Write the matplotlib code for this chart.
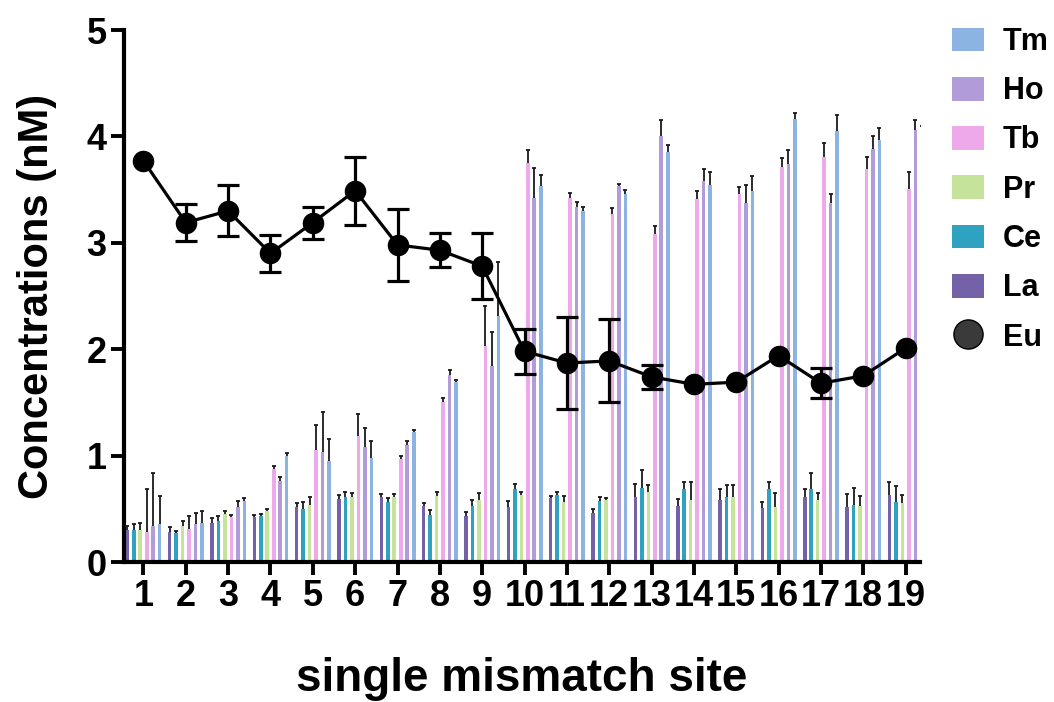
import numpy as np
import matplotlib
matplotlib.use("Agg")
import matplotlib.pyplot as plt
from matplotlib.patches import Patch
from matplotlib.lines import Line2D

plt.rcParams['font.family'] = ['Liberation Sans', 'DejaVu Sans']
plt.rcParams['font.weight'] = 'bold'

sites = list(range(1, 20))
site_labels = [str(s) for s in sites]

La = [0.30,0.28,0.37,0.42,0.52,0.59,0.61,0.53,0.43,0.52,0.60,0.46,0.61,0.53,0.58,0.51,0.61,0.52,0.63]
La_err = [0.04,0.05,0.04,0.02,0.03,0.04,0.03,0.02,0.04,0.05,0.02,0.04,0.12,0.06,0.11,0.05,0.08,0.12,0.12]
Ce = [0.30,0.27,0.39,0.43,0.50,0.61,0.56,0.44,0.53,0.69,0.63,0.57,0.70,0.69,0.61,0.69,0.69,0.54,0.56]
Ce_err = [0.06,0.02,0.04,0.02,0.06,0.05,0.04,0.05,0.05,0.04,0.03,0.04,0.16,0.06,0.11,0.06,0.15,0.16,0.15]
Pr = [0.30,0.34,0.45,0.48,0.54,0.61,0.61,0.62,0.58,0.63,0.56,0.58,0.66,0.58,0.61,0.52,0.58,0.53,0.55]
Pr_err = [0.07,0.05,0.03,0.02,0.07,0.04,0.03,0.04,0.07,0.03,0.06,0.02,0.06,0.17,0.11,0.13,0.07,0.09,0.08]
Tb = [0.28,0.31,0.42,0.87,1.05,1.18,0.97,1.50,2.03,3.75,3.42,3.27,3.08,3.41,3.46,3.71,3.81,3.69,3.51]
Tb_err = [0.41,0.12,0.02,0.03,0.24,0.21,0.03,0.04,0.38,0.12,0.05,0.06,0.08,0.08,0.06,0.09,0.13,0.12,0.16]
Ho = [0.34,0.36,0.52,0.76,1.03,1.08,1.10,1.76,1.84,3.42,3.34,3.53,4.00,3.58,3.37,3.74,3.37,3.88,4.06]
Ho_err = [0.50,0.10,0.055,0.04,0.38,0.18,0.04,0.04,0.32,0.28,0.04,0.02,0.15,0.11,0.17,0.13,0.09,0.12,0.09]
Tm = [0.36,0.37,0.57,1.00,0.95,0.98,1.22,1.69,2.31,3.53,3.30,3.46,3.85,3.54,3.49,4.16,4.05,3.97,4.01]
Tm_err = [0.26,0.11,0.03,0.02,0.21,0.16,0.02,0.02,0.51,0.11,0.04,0.04,0.07,0.13,0.14,0.06,0.15,0.11,0.09]
Eu = [3.77,3.19,3.30,2.90,3.19,3.49,2.98,2.93,2.78,1.98,1.87,1.89,1.74,1.67,1.69,1.94,1.68,1.75,2.01]
Eu_err = [0,0.17,0.24,0.17,0.15,0.32,0.34,0.16,0.31,0.21,0.43,0.39,0.11,0,0,0,0.14,0,0]

series_names = ['La', 'Ce', 'Pr', 'Tb', 'Ho', 'Tm']
series_vals = [La, Ce, Pr, Tb, Ho, Tm]
series_errs = [La_err, Ce_err, Pr_err, Tb_err, Ho_err, Tm_err]
colors = ['#7461A8', '#2EA2C0', '#C6E39B', '#EDA9E9', '#B19CD9', '#8DB3E2']

fig = plt.figure(figsize=(10.54, 7.02), dpi=100)
ax = fig.add_axes([124/1054, 1-562/702, (920-124)/1054, (562-30)/702])

x = np.array(sites, dtype=float)
step = 0.153
bw = 0.085
for i, (name, vals, errs, c) in enumerate(zip(series_names, series_vals, series_errs, colors)):
    xi = x + (i - 2.5) * step
    bc = ax.bar(xi, vals, width=bw, color=c, zorder=2,
                yerr=[np.zeros(len(vals)), errs],
                error_kw=dict(ecolor='#1a1a1a', elinewidth=1.3, capsize=1.6, capthick=1.3, zorder=3))
    caps = bc.errorbar.lines[1]
    if len(caps) == 2:
        caps[0].set_visible(False)

eu_err = np.array(Eu_err)
ax.errorbar(x, Eu, yerr=np.where(eu_err > 0, eu_err, np.nan), fmt='none', ecolor='black',
            elinewidth=2.3, capsize=8.2, capthick=2.3, zorder=4)
ax.plot(x, Eu, '-o', color='black', lw=2.3, markersize=14.5, markerfacecolor='black',
        markeredgecolor='black', zorder=5)

ax.set_xlim(0.54, 19.34)
ax.set_ylim(0, 5)
ax.set_xticks(sites)
ax.set_xticklabels(site_labels)
ax.set_yticks([0, 1, 2, 3, 4, 5])
for s in ['top', 'right']:
    ax.spines[s].set_visible(False)
for s in ['left', 'bottom']:
    ax.spines[s].set_linewidth(3.0)
ax.tick_params(axis='both', which='major', length=9.5, width=2.8, labelsize=26, pad=3)
for lab in ax.get_xticklabels() + ax.get_yticklabels():
    lab.set_fontweight('bold')

ax.set_ylabel('Concentrations (nM)', fontsize=30, fontweight='bold', labelpad=21)
ax.set_xlabel('single mismatch site', fontsize=33, fontweight='bold', labelpad=31)

handles = []
labels = []
for name, c in reversed(list(zip(series_names, colors))):
    handles.append(Patch(facecolor=c, edgecolor='none'))
    labels.append(name)
handles.append(Line2D([], [], marker='o', linestyle='none', markersize=21,
                      markerfacecolor='#3a3a3a', markeredgecolor='black', markeredgewidth=1))
labels.append('Eu')
fig.legend(handles, labels, loc='upper left', bbox_to_anchor=(952/1054, 1-27/702),
           frameon=False, prop=dict(weight='bold', size=22), handlelength=1.05,
           handleheight=0.82, handletextpad=0.62, labelspacing=0.63, borderpad=0,
           borderaxespad=0)

fig.savefig('out.png', dpi=100)
